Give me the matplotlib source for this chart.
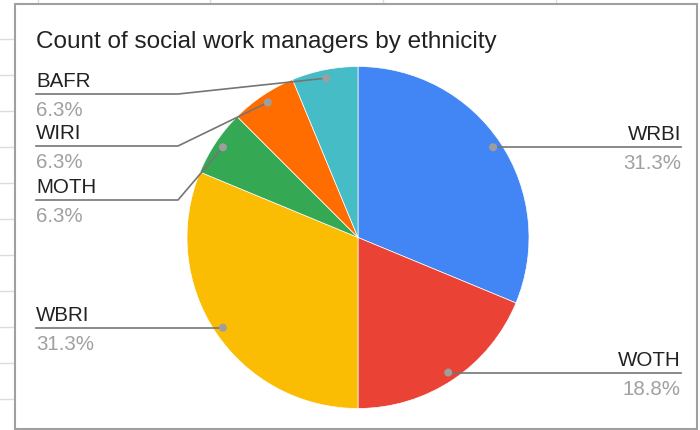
import math
import matplotlib
matplotlib.use("Agg")
import matplotlib.pyplot as plt
from matplotlib.patches import Rectangle, Circle

plt.rcParams["font.family"] = ["Liberation Sans", "DejaVu Sans"]

# data
categories = ["WRBI", "WOTH", "WBRI", "MOTH", "WIRI", "BAFR"]
counts = [5, 3, 5, 1, 1, 1]
colors = ["#4285F4", "#EA4335", "#FBBC04", "#34A853", "#FF6D01", "#46BDC6"]
title = "Count of social work managers by ethnicity"

W, H = 700, 430
def Y(py):
    return H - py

fig = plt.figure(figsize=(7, 4.3), dpi=100)
ax = fig.add_axes([0, 0, 1, 1])

# spreadsheet grid behind the chart
grid_c = "#dadce0"
for gy in range(39, 430, 36):
    ax.plot([0, 14], [Y(gy), Y(gy)], color=grid_c, lw=1, zorder=0)
for gx in [38, 210, 383, 556]:
    ax.plot([gx, gx], [Y(0), Y(4)], color=grid_c, lw=1, zorder=0)
ax.add_patch(Rectangle((15, Y(429)), 682, 425, facecolor="white",
                       edgecolor="#a0a0a0", lw=1.5, zorder=1))

cx, cy, R = 358, Y(237.5), 171
wedges, _ = ax.pie(counts, colors=colors, startangle=90, counterclock=False,
                   center=(cx, cy), radius=R,
                   wedgeprops=dict(edgecolor="white", linewidth=0.5))
for w in wedges:
    w.set_zorder(2)

ax.text(36, Y(48), title, fontsize=17.5, color="#222222", va="baseline", ha="left")

total = sum(counts)
def pct(v):
    return "%.1f%%" % (math.floor(v / total * 1000 + 0.5) / 10)

# leader line rows for the stacked left-hand labels (pixels from top)
left_rows = {"BAFR": 94, "WIRI": 146, "MOTH": 200}
line_c = "#757575"
for w, name, v in zip(wedges, categories, counts):
    mid = math.radians((w.theta1 + w.theta2) / 2)
    dx, dy = cx + 0.95 * R * math.cos(mid), cy + 0.95 * R * math.sin(mid)
    ax.add_patch(Circle((dx, dy), 3.3, color="#9e9e9e", zorder=4))
    if dx > cx:
        ly = dy
        ax.plot([dx, 681], [ly, ly], color=line_c, lw=1.2, zorder=3)
        tx, ha = 681, "right"
    elif name in left_rows:
        ly = Y(left_rows[name])
        ax.plot([36, 178, dx], [ly, ly, dy], color=line_c, lw=1.2, zorder=3)
        tx, ha = 36, "left"
    else:
        ly = dy
        ax.plot([36, dx], [ly, ly], color=line_c, lw=1.2, zorder=3)
        tx, ha = 36, "left"
    ax.text(tx, ly + 7, name, fontsize=14.8, color="#222222", ha=ha, va="baseline")
    ax.text(tx, ly - 22, pct(v), fontsize=14.8, color="#a0a0a0", ha=ha, va="baseline")

ax.set_xlim(0, W)
ax.set_ylim(0, H)
ax.set_aspect("equal")
ax.axis("off")

fig.savefig("out.png", dpi=100)
